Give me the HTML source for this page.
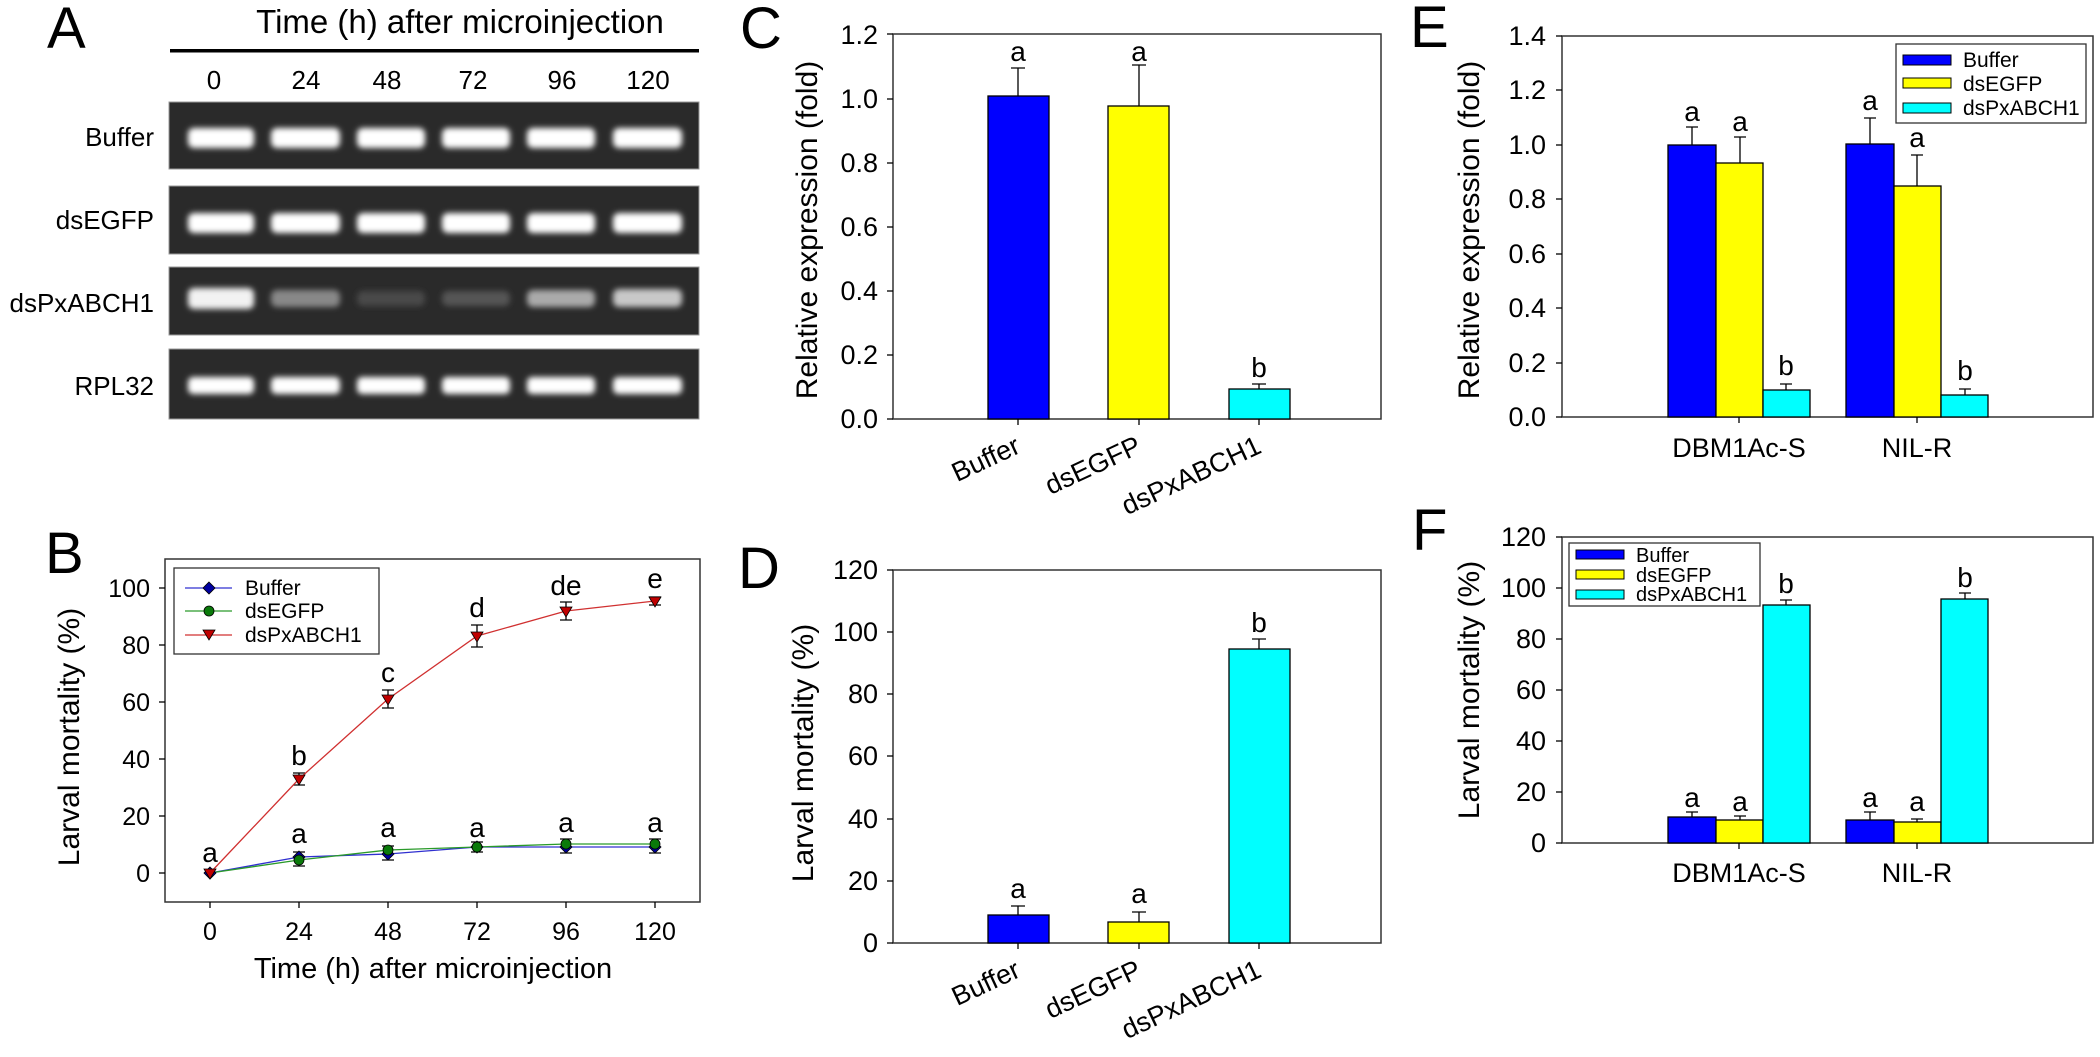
<!DOCTYPE html>
<html><head><meta charset="utf-8"><style>
html,body{margin:0;padding:0;background:#fff;}
svg{display:block;font-family:"Liberation Sans",Arial,sans-serif;}
</style></head><body>
<svg width="2100" height="1057" viewBox="0 0 2100 1057" xmlns="http://www.w3.org/2000/svg">
<defs>
<filter id="bl" x="-20%" y="-60%" width="140%" height="220%"><feGaussianBlur stdDeviation="3"/></filter>
</defs>
<rect width="2100" height="1057" fill="#fff"/>

<!-- ===== Panel A ===== -->
<text x="47" y="48" font-size="58">A</text>
<text x="460" y="33" font-size="33" text-anchor="middle">Time (h) after microinjection</text>
<rect x="170" y="49" width="529" height="3.5" fill="#000"/>
<g font-size="26" text-anchor="middle">
<text x="214" y="89">0</text><text x="306" y="89">24</text><text x="387" y="89">48</text>
<text x="473" y="89">72</text><text x="562" y="89">96</text><text x="648" y="89">120</text>
</g>
<g font-size="26" text-anchor="end">
<text x="154" y="146">Buffer</text>
<text x="154" y="229">dsEGFP</text>
<text x="154" y="312">dsPxABCH1</text>
<text x="154" y="395">RPL32</text>
</g>
<g stroke="#999" stroke-width="1">
<rect x="169" y="102" width="530" height="67" fill="#2a2a2a"/>
<rect x="169" y="186" width="530" height="68" fill="#2a2a2a"/>
<rect x="169" y="267" width="530" height="68" fill="#2a2a2a"/>
<rect x="169" y="349" width="530" height="70" fill="#2a2a2a"/>
</g>
<g filter="url(#bl)">
 <g fill="#ffffff">
 <rect x="188" y="128" width="66" height="20" rx="6"/><rect x="271" y="128" width="69" height="20" rx="6"/>
 <rect x="357" y="128" width="68" height="20" rx="6"/><rect x="442" y="128" width="68" height="20" rx="6"/>
 <rect x="527" y="128" width="68" height="20" rx="6"/><rect x="613" y="128" width="69" height="20" rx="6"/>
 <rect x="188" y="213" width="66" height="20" rx="6"/><rect x="271" y="213" width="69" height="20" rx="6"/>
 <rect x="357" y="213" width="68" height="20" rx="6"/><rect x="442" y="213" width="68" height="20" rx="6"/>
 <rect x="527" y="213" width="68" height="20" rx="6"/><rect x="613" y="213" width="69" height="20" rx="6"/>
 <rect x="188" y="377" width="66" height="17" rx="5"/><rect x="271" y="377" width="69" height="17" rx="5"/>
 <rect x="357" y="377" width="68" height="17" rx="5"/><rect x="442" y="377" width="68" height="17" rx="5"/>
 <rect x="527" y="377" width="68" height="17" rx="5"/><rect x="613" y="377" width="69" height="17" rx="5"/>
 </g>
 <rect x="188" y="288" width="66" height="21" rx="6" fill="#f2f2f2"/>
 <rect x="271" y="290" width="69" height="17" rx="6" fill="#888"/>
 <rect x="357" y="291" width="68" height="15" rx="6" fill="#4a4a4a"/>
 <rect x="442" y="291" width="68" height="15" rx="6" fill="#555"/>
 <rect x="527" y="290" width="68" height="17" rx="6" fill="#aaa"/>
 <rect x="613" y="289" width="69" height="18" rx="6" fill="#c8c8c8"/>
</g>

<!-- ===== Panel B ===== -->
<text x="45" y="573" font-size="58">B</text>
<rect x="165" y="559" width="535" height="343" fill="none" stroke="#333" stroke-width="1.5"/>
<g stroke="#000" stroke-width="1.3">
<line x1="159" y1="873" x2="165" y2="873"/><line x1="159" y1="816" x2="165" y2="816"/>
<line x1="159" y1="759" x2="165" y2="759"/><line x1="159" y1="702" x2="165" y2="702"/>
<line x1="159" y1="645" x2="165" y2="645"/><line x1="159" y1="588" x2="165" y2="588"/>
<line x1="210" y1="902" x2="210" y2="908"/><line x1="299" y1="902" x2="299" y2="908"/>
<line x1="388" y1="902" x2="388" y2="908"/><line x1="477" y1="902" x2="477" y2="908"/>
<line x1="566" y1="902" x2="566" y2="908"/><line x1="655" y1="902" x2="655" y2="908"/>
</g>
<g font-size="25" text-anchor="end">
<text x="150" y="882">0</text><text x="150" y="825">20</text><text x="150" y="768">40</text>
<text x="150" y="711">60</text><text x="150" y="654">80</text><text x="150" y="597">100</text>
</g>
<g font-size="25" text-anchor="middle">
<text x="210" y="940">0</text><text x="299" y="940">24</text><text x="388" y="940">48</text>
<text x="477" y="940">72</text><text x="566" y="940">96</text><text x="655" y="940">120</text>
</g>
<text x="433" y="978" font-size="29" text-anchor="middle">Time (h) after microinjection</text>
<text transform="translate(69,737) rotate(-90)" font-size="30" text-anchor="middle" dy="10">Larval mortality (%)</text>
<g stroke="#000" stroke-width="1.3" fill="none">
<path d="M299 773V785M293 773H305M293 785H305"/>
<path d="M388 690V708M382 690H394M382 708H394"/>
<path d="M477 625V647M471 625H483M471 647H483"/>
<path d="M566 602V620M560 602H572M560 620H572"/>
<path d="M655 597V605M649 597H661M649 605H661"/>
<path d="M299 852V866M293 852H305M293 866H305"/>
<path d="M388 846V860M382 846H394M382 860H394"/>
<path d="M477 842V852M471 842H483M471 852H483"/>
<path d="M566 839V853M560 839H572M560 853H572"/>
<path d="M655 839V853M649 839H661M649 853H661"/>
</g>
<polyline points="210,873 299,857 388,854 477,847 566,847 655,847" fill="none" stroke="#3030d0" stroke-width="1.3"/>
<polyline points="210,873 299,860 388,850 477,847 566,844 655,844" fill="none" stroke="#2a9a2a" stroke-width="1.3"/>
<polyline points="210,873 299,779 388,699 477,636 566,611 655,601" fill="none" stroke="#d03030" stroke-width="1.3"/>
<g fill="#0000a0" stroke="#000" stroke-width="0.8">
<path d="M210 867l6 6-6 6-6-6z"/><path d="M299 851l6 6-6 6-6-6z"/><path d="M388 848l6 6-6 6-6-6z"/>
<path d="M477 841l6 6-6 6-6-6z"/><path d="M566 841l6 6-6 6-6-6z"/><path d="M655 841l6 6-6 6-6-6z"/>
</g>
<g fill="#0a7a0a" stroke="#000" stroke-width="0.8">
<circle cx="299" cy="860" r="5"/><circle cx="388" cy="850" r="5"/><circle cx="477" cy="847" r="5"/>
<circle cx="566" cy="844" r="5"/><circle cx="655" cy="844" r="5"/>
</g>
<g fill="#c00000" stroke="#000" stroke-width="0.8">
<path d="M204 869h12l-6 10z"/><path d="M293 775h12l-6 10z"/><path d="M382 695h12l-6 10z"/>
<path d="M471 632h12l-6 10z"/><path d="M560 607h12l-6 10z"/><path d="M649 597h12l-6 10z"/>
</g>
<g font-size="28" text-anchor="middle">
<text x="210" y="862">a</text><text x="299" y="765">b</text><text x="388" y="682">c</text>
<text x="477" y="617">d</text><text x="566" y="595">de</text><text x="655" y="588">e</text>
<text x="299" y="843">a</text><text x="388" y="837">a</text><text x="477" y="837">a</text>
<text x="566" y="832">a</text><text x="655" y="832">a</text>
</g>
<rect x="174" y="568" width="205" height="86" fill="#fff" stroke="#333" stroke-width="1.3"/>
<line x1="185" y1="588" x2="232" y2="588" stroke="#3030d0" stroke-width="1.3"/>
<path d="M209 582l6 6-6 6-6-6z" fill="#0000a0" stroke="#000" stroke-width="0.8"/>
<line x1="185" y1="611" x2="232" y2="611" stroke="#2a9a2a" stroke-width="1.3"/>
<circle cx="209" cy="611" r="5" fill="#0a7a0a" stroke="#000" stroke-width="0.8"/>
<line x1="185" y1="635" x2="232" y2="635" stroke="#d03030" stroke-width="1.3"/>
<path d="M203 630h12l-6 10z" fill="#c00000" stroke="#000" stroke-width="0.8"/>
<g font-size="21"><text x="245" y="595">Buffer</text><text x="245" y="618">dsEGFP</text><text x="245" y="642">dsPxABCH1</text></g>

<!-- ===== Panel C ===== -->
<text x="740" y="48" font-size="58">C</text>
<rect x="893" y="34" width="488" height="385" fill="none" stroke="#333" stroke-width="1.5"/>
<g stroke="#000" stroke-width="1.3">
<line x1="887" y1="419" x2="893" y2="419"/><line x1="887" y1="355" x2="893" y2="355"/>
<line x1="887" y1="291" x2="893" y2="291"/><line x1="887" y1="227" x2="893" y2="227"/>
<line x1="887" y1="163" x2="893" y2="163"/><line x1="887" y1="99" x2="893" y2="99"/>
<line x1="887" y1="34" x2="893" y2="34"/>
<line x1="1018" y1="419" x2="1018" y2="425"/><line x1="1139" y1="419" x2="1139" y2="425"/><line x1="1259" y1="419" x2="1259" y2="425"/>
</g>
<g font-size="27" text-anchor="end">
<text x="878" y="428">0.0</text><text x="878" y="364">0.2</text><text x="878" y="300">0.4</text>
<text x="878" y="236">0.6</text><text x="878" y="172">0.8</text><text x="878" y="108">1.0</text><text x="878" y="44">1.2</text>
</g>
<text transform="translate(807,230) rotate(-90)" font-size="30" text-anchor="middle" dy="10">Relative expression (fold)</text>
<g stroke="#000" stroke-width="1.3">
<path d="M1018 96V68M1011 68H1025M1139 106V65M1132 65H1146M1259 389V384M1252 384H1266" fill="none"/>
<rect x="988" y="96" width="61" height="323" fill="#0000ff"/>
<rect x="1108" y="106" width="61" height="313" fill="#ffff00"/>
<rect x="1229" y="389" width="61" height="30" fill="#00ffff"/>
</g>
<g font-size="28" text-anchor="middle"><text x="1018" y="61">a</text><text x="1139" y="61">a</text><text x="1259" y="377">b</text></g>
<g font-size="27" text-anchor="end">
<text transform="translate(1022,452) rotate(-25)">Buffer</text>
<text transform="translate(1143,452) rotate(-25)">dsEGFP</text>
<text transform="translate(1263,452) rotate(-25)">dsPxABCH1</text>
</g>

<!-- ===== Panel D ===== -->
<text x="738" y="588" font-size="58">D</text>
<rect x="893" y="570" width="488" height="373" fill="none" stroke="#333" stroke-width="1.5"/>
<g stroke="#000" stroke-width="1.3">
<line x1="887" y1="943" x2="893" y2="943"/><line x1="887" y1="881" x2="893" y2="881"/>
<line x1="887" y1="819" x2="893" y2="819"/><line x1="887" y1="756" x2="893" y2="756"/>
<line x1="887" y1="694" x2="893" y2="694"/><line x1="887" y1="632" x2="893" y2="632"/>
<line x1="887" y1="570" x2="893" y2="570"/>
<line x1="1018" y1="943" x2="1018" y2="949"/><line x1="1139" y1="943" x2="1139" y2="949"/><line x1="1259" y1="943" x2="1259" y2="949"/>
</g>
<g font-size="27" text-anchor="end">
<text x="878" y="952">0</text><text x="878" y="890">20</text><text x="878" y="828">40</text>
<text x="878" y="765">60</text><text x="878" y="703">80</text><text x="878" y="641">100</text><text x="878" y="579">120</text>
</g>
<text transform="translate(803,753) rotate(-90)" font-size="30" text-anchor="middle" dy="10">Larval mortality (%)</text>
<g stroke="#000" stroke-width="1.3">
<path d="M1018 915V906M1011 906H1025M1139 922V912M1132 912H1146M1259 649V639M1252 639H1266" fill="none"/>
<rect x="988" y="915" width="61" height="28" fill="#0000ff"/>
<rect x="1108" y="922" width="61" height="21" fill="#ffff00"/>
<rect x="1229" y="649" width="61" height="294" fill="#00ffff"/>
</g>
<g font-size="28" text-anchor="middle"><text x="1018" y="898">a</text><text x="1139" y="903">a</text><text x="1259" y="632">b</text></g>
<g font-size="27" text-anchor="end">
<text transform="translate(1022,976) rotate(-25)">Buffer</text>
<text transform="translate(1143,976) rotate(-25)">dsEGFP</text>
<text transform="translate(1263,976) rotate(-25)">dsPxABCH1</text>
</g>

<!-- ===== Panel E ===== -->
<text x="1410" y="47" font-size="58">E</text>
<rect x="1562" y="36" width="531" height="381" fill="none" stroke="#333" stroke-width="1.5"/>
<g stroke="#000" stroke-width="1.3">
<line x1="1556" y1="417" x2="1562" y2="417"/><line x1="1556" y1="363" x2="1562" y2="363"/>
<line x1="1556" y1="308" x2="1562" y2="308"/><line x1="1556" y1="254" x2="1562" y2="254"/>
<line x1="1556" y1="199" x2="1562" y2="199"/><line x1="1556" y1="145" x2="1562" y2="145"/>
<line x1="1556" y1="90" x2="1562" y2="90"/><line x1="1556" y1="36" x2="1562" y2="36"/>
<line x1="1739" y1="417" x2="1739" y2="423"/><line x1="1917" y1="417" x2="1917" y2="423"/>
</g>
<g font-size="27" text-anchor="end">
<text x="1546" y="426">0.0</text><text x="1546" y="372">0.2</text><text x="1546" y="317">0.4</text>
<text x="1546" y="263">0.6</text><text x="1546" y="208">0.8</text><text x="1546" y="154">1.0</text>
<text x="1546" y="99">1.2</text><text x="1546" y="45">1.4</text>
</g>
<text transform="translate(1469,230) rotate(-90)" font-size="30" text-anchor="middle" dy="10">Relative expression (fold)</text>
<g stroke="#000" stroke-width="1.3">
<path d="M1692 145V127M1686 127H1698M1740 163V137M1734 137H1746M1786 390V384M1780 384H1792M1870 144V118M1864 118H1876M1917 186V155M1911 155H1923M1965 395V389M1959 389H1971" fill="none"/>
<rect x="1668" y="145" width="48" height="272" fill="#0000ff"/>
<rect x="1716" y="163" width="47" height="254" fill="#ffff00"/>
<rect x="1763" y="390" width="47" height="27" fill="#00ffff"/>
<rect x="1846" y="144" width="48" height="273" fill="#0000ff"/>
<rect x="1894" y="186" width="47" height="231" fill="#ffff00"/>
<rect x="1941" y="395" width="47" height="22" fill="#00ffff"/>
</g>
<g font-size="28" text-anchor="middle">
<text x="1692" y="121">a</text><text x="1740" y="131">a</text><text x="1786" y="375">b</text>
<text x="1870" y="110">a</text><text x="1917" y="147">a</text><text x="1965" y="380">b</text>
</g>
<g font-size="27" text-anchor="middle"><text x="1739" y="457">DBM1Ac-S</text><text x="1917" y="457">NIL-R</text></g>
<rect x="1896" y="44" width="190" height="79" fill="#fff" stroke="#333" stroke-width="1.3"/>
<g stroke="#000" stroke-width="1">
<rect x="1903" y="55" width="48" height="10" fill="#0000ff"/>
<rect x="1903" y="78" width="48" height="10" fill="#ffff00"/>
<rect x="1903" y="103" width="48" height="10" fill="#00ffff"/>
</g>
<g font-size="21"><text x="1963" y="67">Buffer</text><text x="1963" y="91">dsEGFP</text><text x="1963" y="115">dsPxABCH1</text></g>

<!-- ===== Panel F ===== -->
<text x="1412" y="550" font-size="58">F</text>
<rect x="1562" y="537" width="531" height="306" fill="none" stroke="#333" stroke-width="1.5"/>
<g stroke="#000" stroke-width="1.3">
<line x1="1556" y1="843" x2="1562" y2="843"/><line x1="1556" y1="792" x2="1562" y2="792"/>
<line x1="1556" y1="741" x2="1562" y2="741"/><line x1="1556" y1="690" x2="1562" y2="690"/>
<line x1="1556" y1="639" x2="1562" y2="639"/><line x1="1556" y1="588" x2="1562" y2="588"/>
<line x1="1556" y1="537" x2="1562" y2="537"/>
<line x1="1739" y1="843" x2="1739" y2="849"/><line x1="1917" y1="843" x2="1917" y2="849"/>
</g>
<g font-size="27" text-anchor="end">
<text x="1546" y="852">0</text><text x="1546" y="801">20</text><text x="1546" y="750">40</text>
<text x="1546" y="699">60</text><text x="1546" y="648">80</text><text x="1546" y="597">100</text><text x="1546" y="546">120</text>
</g>
<text transform="translate(1469,690) rotate(-90)" font-size="30" text-anchor="middle" dy="10">Larval mortality (%)</text>
<g stroke="#000" stroke-width="1.3">
<path d="M1692 817V812M1686 812H1698M1740 820V816M1734 816H1746M1786 605V600M1780 600H1792M1870 820V812M1864 812H1876M1917 822V819M1911 819H1923M1965 599V593M1959 593H1971" fill="none"/>
<rect x="1668" y="817" width="48" height="26" fill="#0000ff"/>
<rect x="1716" y="820" width="47" height="23" fill="#ffff00"/>
<rect x="1763" y="605" width="47" height="238" fill="#00ffff"/>
<rect x="1846" y="820" width="48" height="23" fill="#0000ff"/>
<rect x="1894" y="822" width="47" height="21" fill="#ffff00"/>
<rect x="1941" y="599" width="47" height="244" fill="#00ffff"/>
</g>
<g font-size="28" text-anchor="middle">
<text x="1692" y="807">a</text><text x="1740" y="811">a</text><text x="1786" y="593">b</text>
<text x="1870" y="807">a</text><text x="1917" y="811">a</text><text x="1965" y="587">b</text>
</g>
<g font-size="27" text-anchor="middle"><text x="1739" y="882">DBM1Ac-S</text><text x="1917" y="882">NIL-R</text></g>
<rect x="1569" y="543" width="191" height="63" fill="#fff" stroke="#333" stroke-width="1.3"/>
<g stroke="#000" stroke-width="1">
<rect x="1576" y="550" width="48" height="9" fill="#0000ff"/>
<rect x="1576" y="570" width="48" height="9" fill="#ffff00"/>
<rect x="1576" y="590" width="48" height="9" fill="#00ffff"/>
</g>
<g font-size="20"><text x="1636" y="562">Buffer</text><text x="1636" y="582">dsEGFP</text><text x="1636" y="601">dsPxABCH1</text></g>
</svg>
</body></html>
